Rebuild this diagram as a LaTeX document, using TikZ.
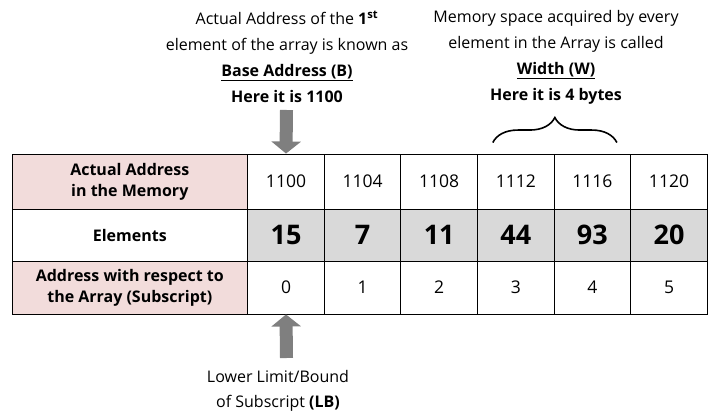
\documentclass[tikz,border=0pt]{standalone}
\usepackage{fontspec}
\setmainfont{Open Sans}
\usetikzlibrary{arrows.meta,decorations.pathreplacing,calc}
\definecolor{headpink}{HTML}{F2DCDB}
\definecolor{elemgray}{HTML}{D9D9D9}
\definecolor{arrowgray}{HTML}{7F7F7F}
\tikzset{
	cell/.style={draw, line width=0.9pt, minimum width=76.6pt, inner sep=0pt, font=\fontsize{17.5}{20}\selectfont},
	headcell/.style={cell, minimum width=235.6pt, fill=headpink, align=center, font=\fontsize{16}{21}\selectfont\bfseries},
	note/.style={align=center, font=\fontsize{16}{26}\selectfont},
	blockarrow/.style={arrowgray, line width=13pt, -{Triangle[width=29pt, length=12pt]}}
}
\begin{document}
\begin{tikzpicture}[x=1pt, y=-1pt]
		\useasboundingbox (0, 0) rectangle (720, 417);
		% row labels
		\node[headcell, minimum height=55pt] (addrlabel) at (129.8, 181.5) {Actual Address\\in the Memory};
		\node[headcell, minimum height=52pt, fill=white] (elemlabel) at (129.8, 235) {Elements};
		\node[headcell, minimum height=53pt] (sublabel) at (129.8, 287.5) {Address with respect to\\the Array (Subscript)};
		% cells
		\foreach \a [count=\i from 0] in {1100, 1104, 1108, 1112, 1116, 1120}
			\node[cell, minimum height=55pt] (addr\i) at (286 + 76.6*\i, 181.5) {\a};
		\foreach \e [count=\i from 0] in {15, 7, 11, 44, 93, 20}
			\node[cell, minimum height=52pt, fill=elemgray, font=\fontsize{27}{30}\selectfont\bfseries] (elem\i) at (286 + 76.6*\i, 235) {\e};
		\foreach \s in {0, ..., 5}
			\node[cell, minimum height=53pt] (sub\s) at (286 + 76.6*\s, 287.5) {\s};
		% notes
		\node[note] (basenote) at (287, 57) {Actual Address of the \textbf{1\textsuperscript{st}}\\element of the array is known as\\\textbf{\underline{Base Address (B)}}\\\textbf{Here it is 1100}};
		\node[note] (widthnote) at (556, 57) {Memory space acquired by every\\element in the Array is called\\\textbf{\underline{Width (W)}}\\\textbf{Here it is 4 bytes}};
		\node[note, font=\fontsize{16}{25}\selectfont] (lbnote) at (278, 390.5) {Lower Limit/Bound\\of Subscript \textbf{(LB)}};
		% arrows and brace
		\coordinate (basetop) at (286.5, 110);
		\coordinate (lbbottom) at (286.5, 358);
		\draw[blockarrow] (basetop) -- (addr0.north);
		\draw[blockarrow] (lbbottom) -- (sub0.south);
		\coordinate (bracel) at ($(addr3.north) + (-23, -11)$);
		\coordinate (bracer) at ($(addr4.north) + (24.5, -11)$);
		\draw[decorate, decoration={brace, amplitude=25pt}, line width=1.6pt] (bracel) -- (bracer);
\end{tikzpicture}
\end{document}
